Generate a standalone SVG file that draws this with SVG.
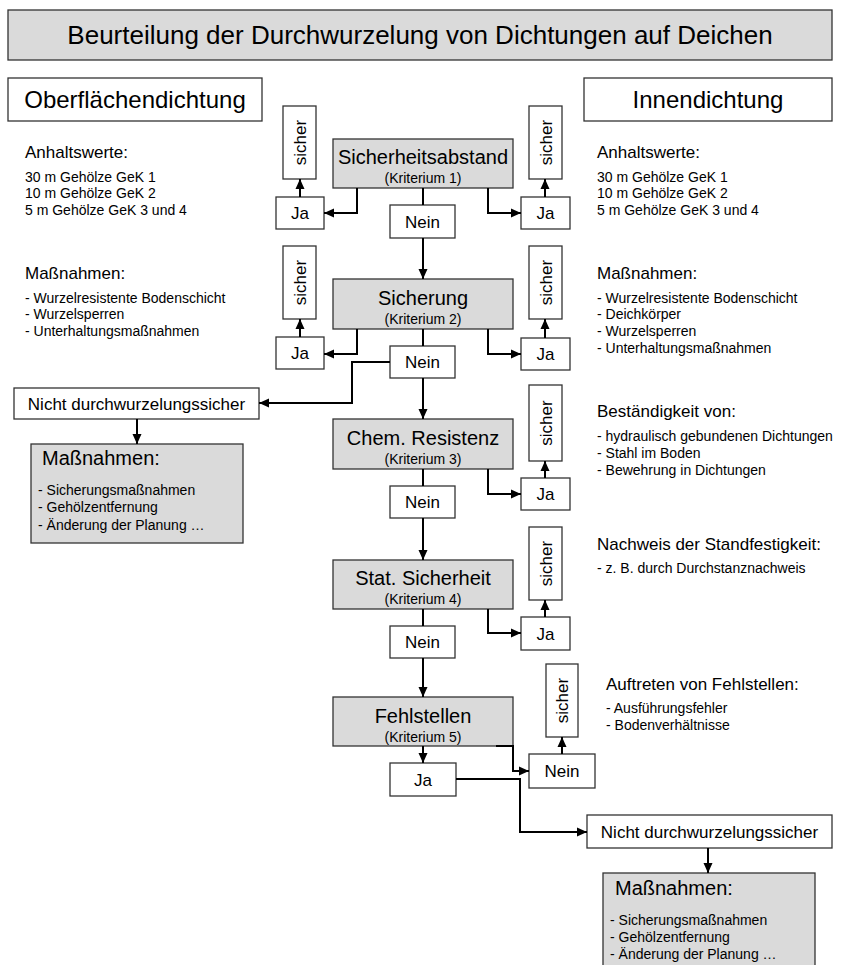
<svg xmlns="http://www.w3.org/2000/svg" width="841" height="965" viewBox="0 0 841 965">
<style>
text{font-family:"Liberation Sans",Arial,sans-serif;fill:#000}
.box{fill:#fff;stroke:#333;stroke-width:1.3}
.gbox{fill:#dadada;stroke:#333;stroke-width:1.3}
.c{text-anchor:middle}
.t26{font-size:26px}.t24{font-size:24px}.t20{font-size:20px}.t17{font-size:17px}.t14{font-size:14px}
.conn path{fill:none;stroke:#000;stroke-width:2}
</style>
<defs>
<marker id="ar" markerUnits="userSpaceOnUse" markerWidth="10" markerHeight="10" refX="10" refY="5" orient="auto">
<path d="M0,0.5 L10,5 L0,9.5 z" fill="#000"/>
</marker>
</defs>
<rect width="841" height="965" fill="#fff"/>

<g id="title"><rect class="gbox" x="8" y="10" width="824" height="50"/><text class="t26 c" x="420" y="44">Beurteilung der Durchwurzelung von Dichtungen auf Deichen</text></g>
<g id="ober"><rect class="box" x="8" y="78" width="254" height="43"/><text class="t24 c" x="135" y="108">Oberflächendichtung</text></g>
<g id="innen"><rect class="box" x="584" y="78" width="248" height="43"/><text class="t24 c" x="708" y="108">Innendichtung</text></g>

<g id="left-notes">
<text class="t17" x="25" y="158">Anhaltswerte:</text>
<text class="t14" x="25" y="182">30 m Gehölze GeK 1</text>
<text class="t14" x="25" y="198">10 m Gehölze GeK 2</text>
<text class="t14" x="25" y="215">5 m Gehölze GeK 3 und 4</text>
<text class="t17" x="25" y="279">Maßnahmen:</text>
<text class="t14" x="25" y="303">- Wurzelresistente Bodenschicht</text>
<text class="t14" x="25" y="319">- Wurzelsperren</text>
<text class="t14" x="25" y="336">- Unterhaltungsmaßnahmen</text>
</g>
<g id="right-notes">
<text class="t17" x="597" y="158">Anhaltswerte:</text>
<text class="t14" x="597" y="182">30 m Gehölze GeK 1</text>
<text class="t14" x="597" y="198">10 m Gehölze GeK 2</text>
<text class="t14" x="597" y="215">5 m Gehölze GeK 3 und 4</text>
<text class="t17" x="597" y="279">Maßnahmen:</text>
<text class="t14" x="597" y="303">- Wurzelresistente Bodenschicht</text>
<text class="t14" x="597" y="319">- Deichkörper</text>
<text class="t14" x="597" y="336">- Wurzelsperren</text>
<text class="t14" x="597" y="353">- Unterhaltungsmaßnahmen</text>
<text class="t17" x="597" y="417">Beständigkeit von:</text>
<text class="t14" x="597" y="441">- hydraulisch gebundenen Dichtungen</text>
<text class="t14" x="597" y="458">- Stahl im Boden</text>
<text class="t14" x="597" y="475">- Bewehrung in Dichtungen</text>
<text class="t17" x="597" y="550">Nachweis der Standfestigkeit:</text>
<text class="t14" x="597" y="573">- z. B. durch Durchstanznachweis</text>
<text class="t17" x="606" y="690">Auftreten von Fehlstellen:</text>
<text class="t14" x="606" y="713">- Ausführungsfehler</text>
<text class="t14" x="606" y="730">- Bodenverhältnisse</text>
</g>

<g id="k1"><rect class="gbox" x="333" y="139" width="180" height="49"/><text class="t20 c" x="423" y="164">Sicherheitsabstand</text><text class="t14 c" x="423" y="183">(Kriterium 1)</text></g>
<g id="k2"><rect class="gbox" x="333" y="279" width="180" height="50"/><text class="t20 c" x="423" y="305">Sicherung</text><text class="t14 c" x="423" y="324">(Kriterium 2)</text></g>
<g id="k3"><rect class="gbox" x="333" y="419" width="180" height="50"/><text class="t20 c" x="423" y="445">Chem. Resistenz</text><text class="t14 c" x="423" y="464">(Kriterium 3)</text></g>
<g id="k4"><rect class="gbox" x="333" y="560" width="180" height="49"/><text class="t20 c" x="423" y="585">Stat. Sicherheit</text><text class="t14 c" x="423" y="604">(Kriterium 4)</text></g>
<g id="k5"><rect class="gbox" x="333" y="697" width="180" height="49"/><text class="t20 c" x="423" y="723">Fehlstellen</text><text class="t14 c" x="423" y="742">(Kriterium 5)</text></g>

<g id="nein1"><rect class="box" x="390" y="205" width="65" height="33"/><text class="t17 c" x="422.5" y="228">Nein</text></g>
<g id="nein2"><rect class="box" x="390" y="346" width="65" height="32"/><text class="t17 c" x="422.5" y="368">Nein</text></g>
<g id="nein3"><rect class="box" x="390" y="486" width="65" height="32"/><text class="t17 c" x="422.5" y="508">Nein</text></g>
<g id="nein4"><rect class="box" x="390" y="626" width="65" height="32"/><text class="t17 c" x="422.5" y="648">Nein</text></g>
<g id="nein5"><rect class="box" x="529" y="754" width="66" height="34"/><text class="t17 c" x="562" y="777">Nein</text></g>

<g id="ja1l"><rect class="box" x="276" y="197" width="48" height="32"/><text class="t17 c" x="300" y="219">Ja</text></g>
<g id="ja1r"><rect class="box" x="521" y="197" width="49" height="32"/><text class="t17 c" x="545.5" y="219">Ja</text></g>
<g id="ja2l"><rect class="box" x="276" y="337" width="48" height="32"/><text class="t17 c" x="300" y="359">Ja</text></g>
<g id="ja2r"><rect class="box" x="521" y="338" width="49" height="32"/><text class="t17 c" x="545.5" y="360">Ja</text></g>
<g id="ja3"><rect class="box" x="521" y="478" width="49" height="32"/><text class="t17 c" x="545.5" y="500">Ja</text></g>
<g id="ja4"><rect class="box" x="521" y="617" width="49" height="33"/><text class="t17 c" x="545.5" y="640">Ja</text></g>
<g id="ja5"><rect class="box" x="390" y="763" width="66" height="33"/><text class="t17 c" x="423" y="786">Ja</text></g>

<g id="s1l"><rect class="box" x="283" y="106" width="33" height="73"/><text class="t17 c" transform="translate(305.5,142.5) rotate(-90)">sicher</text></g>
<g id="s1r"><rect class="box" x="529" y="106" width="33" height="73"/><text class="t17 c" transform="translate(551.5,142.5) rotate(-90)">sicher</text></g>
<g id="s2l"><rect class="box" x="283" y="246" width="33" height="73"/><text class="t17 c" transform="translate(305.5,282.5) rotate(-90)">sicher</text></g>
<g id="s2r"><rect class="box" x="529" y="246" width="33" height="73"/><text class="t17 c" transform="translate(551.5,282.5) rotate(-90)">sicher</text></g>
<g id="s3"><rect class="box" x="529" y="385" width="33" height="76"/><text class="t17 c" transform="translate(551.5,423) rotate(-90)">sicher</text></g>
<g id="s4"><rect class="box" x="529" y="527" width="33" height="73"/><text class="t17 c" transform="translate(551.5,563.5) rotate(-90)">sicher</text></g>
<g id="s5"><rect class="box" x="546" y="664" width="32" height="73"/><text class="t17 c" transform="translate(568,700.5) rotate(-90)">sicher</text></g>

<g id="nicht-l"><rect class="box" x="14" y="388" width="245" height="31"/><text class="t17 c" x="136.5" y="410">Nicht durchwurzelungssicher</text></g>
<g id="mass-l"><rect class="gbox" x="31" y="444" width="212" height="99"/><text class="t20" x="42" y="465">Maßnahmen:</text><text class="t14" x="38" y="495">- Sicherungsmaßnahmen</text><text class="t14" x="38" y="512">- Gehölzentfernung</text><text class="t14" x="38" y="530">- Änderung der Planung …</text></g>
<g id="nicht-r"><rect class="box" x="587" y="815" width="245" height="33"/><text class="t17 c" x="709.5" y="838">Nicht durchwurzelungssicher</text></g>
<g id="mass-r"><rect class="gbox" x="603" y="873" width="212" height="100"/><text class="t20" x="615" y="895">Maßnahmen:</text><text class="t14" x="610" y="925">- Sicherungsmaßnahmen</text><text class="t14" x="610" y="942">- Gehölzentfernung</text><text class="t14" x="610" y="959">- Änderung der Planung …</text></g>

<g id="connectors" class="conn">
<path d="M423,188 V205"/>
<path d="M423,238 V279" marker-end="url(#ar)"/>
<path d="M357,188 V213 H324" marker-end="url(#ar)"/>
<path d="M488,188 V213 H521" marker-end="url(#ar)"/>
<path d="M300,197 V179" marker-end="url(#ar)"/>
<path d="M545,197 V179" marker-end="url(#ar)"/>
<path d="M423,329 V346"/>
<path d="M423,378 V419" marker-end="url(#ar)"/>
<path d="M357,329 V354 H324" marker-end="url(#ar)"/>
<path d="M488,329 V354 H521" marker-end="url(#ar)"/>
<path d="M300,337 V319" marker-end="url(#ar)"/>
<path d="M545,338 V319" marker-end="url(#ar)"/>
<path d="M390,362 H352 V403 H259" marker-end="url(#ar)"/>
<path d="M137,419 V444" marker-end="url(#ar)"/>
<path d="M423,469 V486"/>
<path d="M423,518 V560" marker-end="url(#ar)"/>
<path d="M488,469 V494 H521" marker-end="url(#ar)"/>
<path d="M545,478 V461" marker-end="url(#ar)"/>
<path d="M423,609 V626"/>
<path d="M423,658 V697" marker-end="url(#ar)"/>
<path d="M488,609 V633 H521" marker-end="url(#ar)"/>
<path d="M545,617 V600" marker-end="url(#ar)"/>
<path d="M423,746 V763" marker-end="url(#ar)"/>
<path d="M496,746 H513 V771 H529" marker-end="url(#ar)"/>
<path d="M562,754 V737" marker-end="url(#ar)"/>
<path d="M456,779 H520 V832 H587" marker-end="url(#ar)"/>
<path d="M708,848 V873" marker-end="url(#ar)"/>
</g>
</svg>
